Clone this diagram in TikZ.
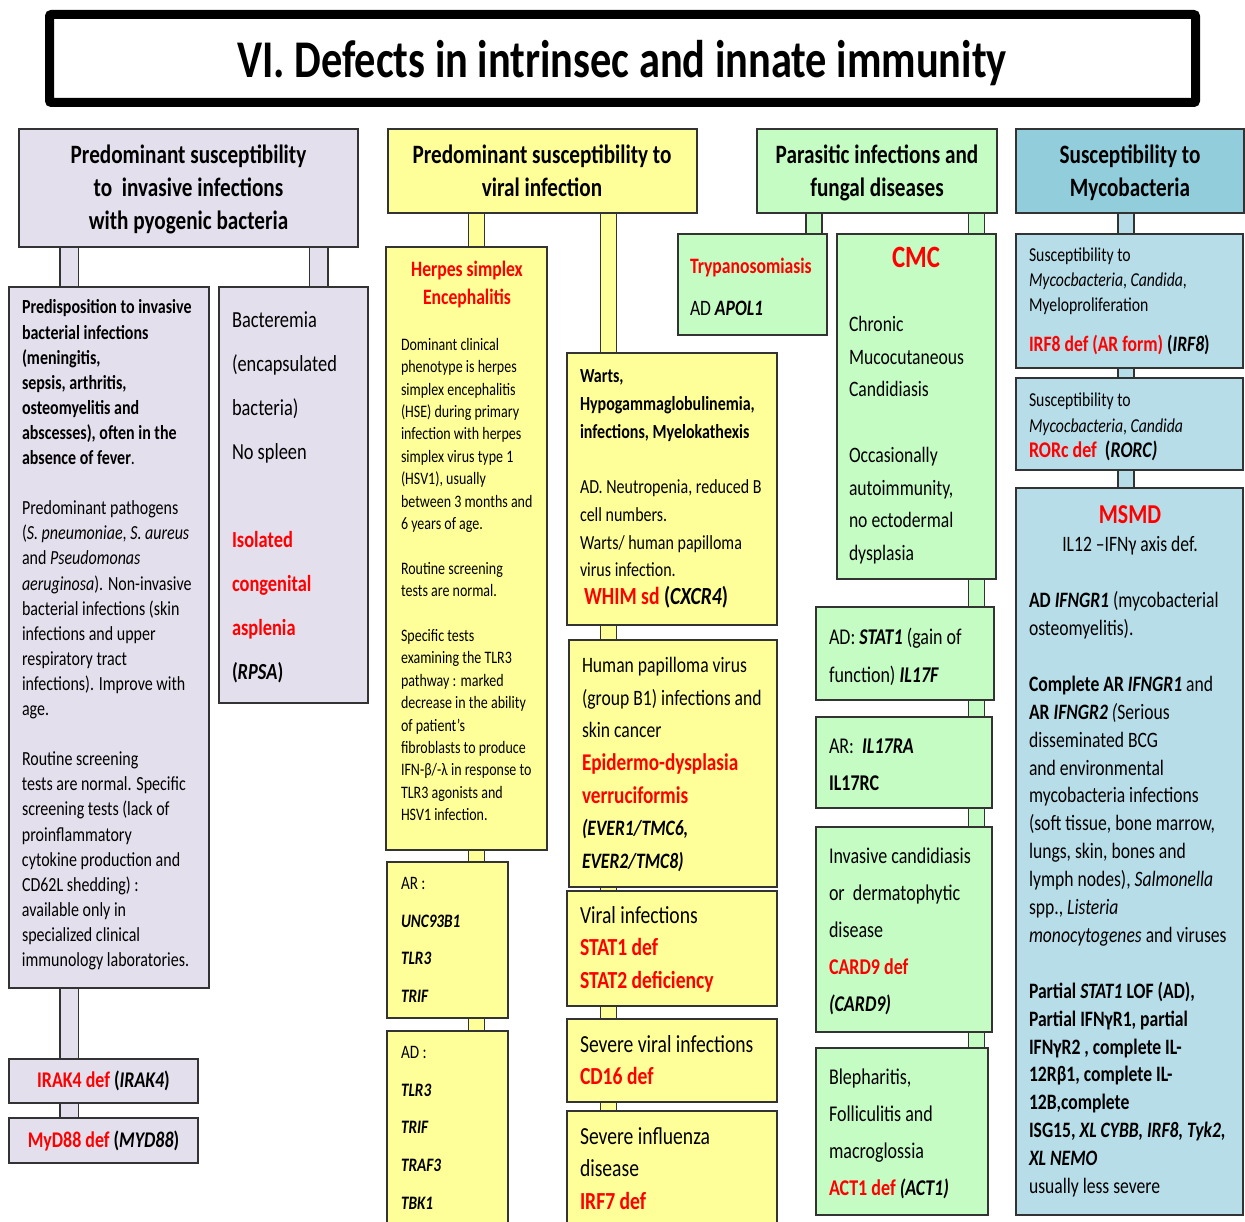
\documentclass[tikz,border=0pt]{standalone}
\usepackage{fontspec}
\setmainfont{Carlito}[FakeStretch=0.8]
\definecolor{lav}{HTML}{E4DFEC}
\definecolor{yel}{HTML}{FFFF99}
\definecolor{grn}{HTML}{C4FCC4}
\definecolor{bluh}{HTML}{92CDDC}
\definecolor{blub}{HTML}{B7DDE8}
\definecolor{bordc}{HTML}{333333}
\definecolor{rd}{HTML}{FF0000}
\pgfdeclarelayer{bg}
\pgfsetlayers{bg,main}
\newcommand\fs[2]{\fontsize{#1}{#2}\selectfont}
\newcommand\rb[1]{\textcolor{rd}{\textbf{#1}}}
\newcommand\bi[1]{\textbf{\textit{#1}}}
\newcommand\mybox[6]{\node[box=#2, minimum width={#5-#3}, minimum height={#6-#4}] (#1) at (#3,#4) {};}
\tikzset{
  box/.style={draw=bordc, line width=1.5pt, fill=#1, anchor=north west, inner sep=0pt, outer sep=0pt},
  bar/.style={draw=bordc, line width=1.5pt, double=#1, double distance=14.5pt},
  widebar/.style={draw=bordc, line width=1.5pt, double=#1, double distance=17pt},
  txt/.style={anchor=north west, inner sep=0pt, outer sep=0pt, align=left},
  ctr/.style={anchor=center, inner sep=0pt, outer sep=0pt, align=center},
}
\begin{document}
\begin{tikzpicture}[x=1pt,y=-1pt]
\useasboundingbox (0,0) rectangle (1245,1222);
% title
\node[draw=black, line width=9pt, rounded corners=2pt, minimum width=1146, minimum height=88, anchor=north west, inner sep=0pt, outer sep=0pt] (titlebox) at (49.5,14.5) {};
\node[anchor=base, inner sep=0pt, font=\fs{53}{60}\bfseries] (title) at (622,77.5) {VI. Defects in intrinsec and innate immunity};

% ---------- column 1 ----------
\mybox{h1}{lav}{19}{129}{358}{247}
\mybox{a1}{lav}{9}{287}{209}{988}
\mybox{b1}{lav}{219}{287}{368}{703}
\mybox{irak}{lav}{9}{1059}{198}{1103}
\mybox{myd}{lav}{9}{1118}{198}{1163}
\node[ctr, font=\fs{26.5}{33}\bfseries] (h1t) at (188.5,190.4) {\strut Predominant susceptibility\\to~~invasive infections\\with pyogenic bacteria\strut};
\node[txt, font=\fs{20}{25.1}] (a1t) at (22,296.4) {\strut\textbf{Predisposition to invasive}\\
\textbf{bacterial infections}\\
\textbf{(meningitis,}\\
\textbf{sepsis, arthritis,}\\
\textbf{osteomyelitis and}\\
\textbf{abscesses), often in the}\\
\textbf{absence of fever}.\\[25.1pt]
Predominant pathogens\\
(\textit{S. pneumoniae}, \textit{S. aureus}\\
and \textit{Pseudomonas}\\
\textit{aeruginosa}). Non-invasive\\
bacterial infections (skin\\
infections and upper\\
respiratory tract\\
infections). Improve with\\
age.\\[25.1pt]
Routine screening\\
tests are normal. Specific\\
screening tests (lack of\\
proinflammatory\\
cytokine production and\\
CD62L shedding) :\\
available only in\\
specialized clinical\\
immunology laboratories.};
\node[txt, font=\fs{23}{44}] (b1t) at (232,296.2) {\strut Bacteremia\\(encapsulated\\bacteria)\\No spleen\\[44pt]
\rb{Isolated}\\\rb{congenital}\\\rb{asplenia}\\\textbf{(\textit{RPSA})}};
\node[ctr, font=\fs{22.4}{27}\bfseries] (irakt) at (103.5,1082.3) {\strut\textcolor{rd}{IRAK4 def} (\textit{IRAK4})};
\node[ctr, font=\fs{22.4}{27}\bfseries] (mydt) at (103.5,1142.3) {\strut\textcolor{rd}{MyD88 def} (\textit{MYD88})};

% ---------- column 2 ----------
\mybox{h2}{yel}{388}{129}{697}{213}
\mybox{herp}{yel}{386}{247}{547}{850}
\mybox{ar}{yel}{387}{862}{508}{1018}
\mybox{ad}{yel}{387}{1031}{508}{1232}
\mybox{warts}{yel}{567}{353}{777}{625}
\mybox{hpv}{yel}{569}{640}{777}{887}
\mybox{viral}{yel}{567}{891}{777}{1006}
\mybox{sev}{yel}{567}{1019}{777}{1102}
\mybox{infl}{yel}{567}{1111}{777}{1232}
\node[ctr, font=\fs{26.5}{33}\bfseries] (h2t) at (542,173.9) {\strut Predominant susceptibility to\\viral infection\strut};
\node[ctr, font=\fs{22}{28}\bfseries, text=rd] (herptt) at (467,284.6) {\strut Herpes simplex\\Encephalitis\strut};
\node[txt, font=\fs{17.5}{22.4}] (herpt) at (401,334.6) {\strut Dominant clinical\\phenotype is herpes\\simplex encephalitis\\(HSE) during primary\\infection with herpes\\simplex virus type 1\\(HSV1), usually\\between 3 months and\\6 years of age.\\[22.4pt]
Routine screening\\tests are normal.\\[22.4pt]
Specific tests\\examining the TLR3\\pathway : marked\\decrease in the ability\\of patient’s\\fibroblasts to produce\\IFN-β/-λ in response to\\TLR3 agonists and\\HSV1 infection.};
\node[txt, font=\fs{19}{37.6}] (art) at (401,863.4) {\strut AR :\\\bi{UNC93B1}\\\bi{TLR3}\\\bi{TRIF}};
\node[txt, font=\fs{19}{37.6}] (adt) at (401,1032.4) {\strut AD :\\\bi{TLR3}\\\bi{TRIF}\\\bi{TRAF3}\\\bi{TBK1}};
\node[txt, font=\fs{20}{27.7}] (wartst) at (580,363.6) {\strut\textbf{Warts,}\\\textbf{Hypogammaglobulinemia,}\\\textbf{infections, Myelokathexis}\\[27.7pt]
AD. Neutropenia, reduced B\\cell numbers.\\Warts/ human papilloma\\virus infection.\\
\hspace{4pt}{\fontsize{24.6}{27.7}\selectfont\rb{WHIM sd} \textbf{(\textit{CXCR4})}}};
\node[txt, font=\fs{22}{32.6}] (hpvt) at (582,649.8) {\strut Human papilloma virus\\(group B1) infections and\\skin cancer\\{\fontsize{24}{32.6}\selectfont\rb{Epidermo-dysplasia}}\\{\fontsize{24}{32.6}\selectfont\rb{verruciformis}}\\\bi{(EVER1/TMC6,}\\\bi{EVER2/TMC8)}};
\node[txt, font=\fs{24.5}{32.5}] (viralt) at (580,900.6) {\strut Viral infections\\\rb{STAT1 def}\\\rb{STAT2 deficiency}};
\node[txt, font=\fs{24.5}{32.5}] (sevt) at (580,1029.6) {\strut Severe viral infections\\\rb{CD16 def}};
\node[txt, font=\fs{24.5}{32.5}] (inflt) at (580,1121.6) {\strut Severe influenza\\disease\\\rb{IRF7 def}};

% ---------- column 3 ----------
\mybox{h3}{grn}{757}{129}{997}{213}
\mybox{tryp}{grn}{678}{234}{827}{335}
\mybox{cmc}{grn}{837}{234}{996}{579}
\mybox{stat}{grn}{816}{607}{994}{700}
\mybox{il}{grn}{816}{717}{992}{808}
\mybox{card}{grn}{816}{827}{992}{1032}
\mybox{act}{grn}{816}{1048}{988}{1215}
\node[ctr, font=\fs{26.5}{33}\bfseries] (h3t) at (877,173.9) {\strut Parasitic infections and\\fungal diseases\strut};
\node[txt, font=\fs{22}{42}] (trypt) at (690,244.2) {\strut\rb{Trypanosomiasis}\\AD \bi{APOL1}};
\node[ctr, font=\fs{31}{36}\bfseries, text=rd] (cmctt) at (916,260) {\strut CMC};
\node[txt, font=\fs{22}{32.7}] (cmct) at (849,308.7) {\strut Chronic\\Mucocutaneous\\Candidiasis\\[32.7pt]Occasionally\\autoimmunity,\\no ectodermal\\dysplasia};
\node[txt, font=\fs{22.5}{38}] (statt) at (829,618.2) {\strut AD: \bi{STAT1} (gain of\\function) \bi{IL17F}};
\node[txt, font=\fs{22.5}{37}] (ilt) at (829,727.9) {\strut AR:~~\bi{IL17RA}\\\textbf{IL17RC}};
\node[txt, font=\fs{22.5}{37}] (cardt) at (829,837.9) {\strut Invasive candidiasis\\or~~dermatophytic\\disease\\\rb{CARD9 def}\\\bi{(CARD9)}};
\node[txt, font=\fs{22.5}{37}] (actt) at (829,1058.9) {\strut Blepharitis,\\Folliculitis and\\macroglossia\\\rb{ACT1 def} \bi{(ACT1)}};

% ---------- column 4 ----------
\mybox{h4}{bluh}{1016}{129}{1244}{213}
\mybox{irf}{blub}{1016}{234}{1243}{368}
\mybox{ror}{blub}{1016}{378}{1243}{470}
\mybox{msmd}{blub}{1016}{488}{1243}{1215}
\node[ctr, font=\fs{26.5}{33}\bfseries] (h4t) at (1130,173.9) {\strut Susceptibility to\\Mycobacteria\strut};
\node[txt, font=\fs{19.7}{25}] (irft) at (1029,244.4) {\strut Susceptibility to\\\textit{Mycocbacteria}, \textit{Candida},\\Myeloproliferation\\[15pt]
{\fontsize{22}{25}\selectfont\rb{IRF8 def (AR form)} \textbf{(\textit{IRF8})}}};
\node[txt, font=\fs{19.7}{25.5}] (rort) at (1029,389.1) {\strut Susceptibility to\\\textit{Mycocbacteria}, \textit{Candida}\\{\fontsize{22.4}{25.5}\selectfont\rb{RORc def}~~\textbf{(\textit{RORC)}}}};
\node[ctr, font=\fs{27.3}{32}\bfseries, text=rd] (msmdtt) at (1130,516.6) {\strut MSMD};
\node[ctr, font=\fs{22}{27}] (msmdst) at (1130,546.2) {\strut IL12 –IFNγ axis def.};
\node[txt, font=\fs{22}{27.9}] (msmdt) at (1029,588.1) {\strut\textbf{AD \textit{IFNGR1}} (mycobacterial\\osteomyelitis).\\[27.9pt]
\textbf{Complete AR \textit{IFNGR1}} and\\
\textbf{AR \textit{IFNGR2}} \textit{(}Serious\\
disseminated BCG\\
and environmental\\
mycobacteria infections\\
(soft tissue, bone marrow,\\
lungs, skin, bones and\\
lymph nodes), \textit{Salmonella}\\
spp., \textit{Listeria}\\
\textit{monocytogenes} and viruses\\[27.9pt]
\textbf{Partial \textit{STAT1} LOF (AD),}\\
\textbf{Partial IFNγR1, partial}\\
\textbf{IFNγR2 , complete IL-}\\
\textbf{12Rβ1, complete IL-}\\
\textbf{12B,complete}\\
\textbf{ISG15, \textit{XL CYBB, IRF8, Tyk2,}}\\
\textbf{\textit{XL NEMO}}\\
usually less severe};

% ---------- connector bars ----------
\coordinate (bx1) at (69,0);
\coordinate (bx2) at (318.5,0);
\coordinate (bx3) at (476.5,0);
\coordinate (bx4) at (608.5,0);
\coordinate (bx5) at (814,0);
\coordinate (bx6) at (976.5,0);
\coordinate (bx7) at (1126,0);
\begin{pgfonlayer}{bg}
\draw[widebar=lav] (bx1 |- h1.south) -- (bx1 |- a1.north);
\draw[widebar=lav] (bx2 |- h1.south) -- (bx2 |- b1.north);
\draw[widebar=lav] (bx1 |- a1.south) -- (bx1 |- irak.north);
\draw[widebar=lav] (bx1 |- irak.south) -- (bx1 |- myd.north);
\draw[bar=yel] (bx3 |- h2.south) -- (bx3 |- herp.north);
\draw[bar=yel] (bx3 |- herp.south) -- (bx3 |- ar.north);
\draw[bar=yel] (bx3 |- ar.south) -- (bx3 |- ad.north);
\draw[bar=yel] (bx4 |- h2.south) -- (bx4 |- warts.north);
\draw[bar=yel] (bx4 |- warts.south) -- (bx4 |- hpv.north);
\draw[bar=yel] (bx4 |- hpv.south) -- (bx4 |- viral.north);
\draw[bar=yel] (bx4 |- viral.south) -- (bx4 |- sev.north);
\draw[bar=yel] (bx4 |- sev.south) -- (bx4 |- infl.north);
\draw[bar=grn] (bx5 |- h3.south) -- (bx5 |- tryp.north);
\draw[bar=grn] (bx6 |- h3.south) -- (bx6 |- cmc.north);
\draw[bar=grn] (bx6 |- cmc.south) -- (bx6 |- stat.north);
\draw[bar=grn] (bx6 |- stat.south) -- (bx6 |- il.north);
\draw[bar=grn] (bx6 |- il.south) -- (bx6 |- card.north);
\draw[bar=grn] (bx6 |- card.south) -- (bx6 |- act.north);
\draw[bar=blub] (bx7 |- h4.south) -- (bx7 |- irf.north);
\draw[bar=blub] (bx7 |- irf.south) -- (bx7 |- ror.north);
\draw[bar=blub] (bx7 |- ror.south) -- (bx7 |- msmd.north);
\end{pgfonlayer}
\end{tikzpicture}
\end{document}
